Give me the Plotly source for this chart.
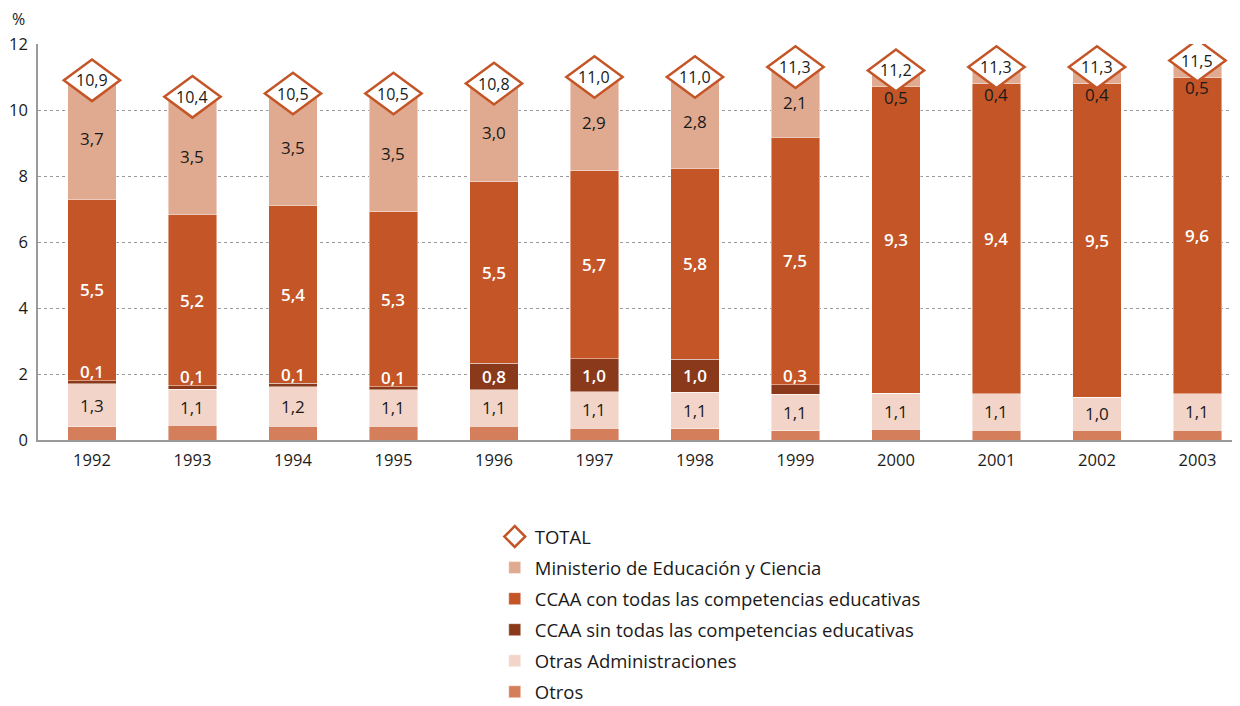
import plotly.graph_objects as go

years = [1992, 1993, 1994, 1995, 1996, 1997, 1998, 1999, 2000, 2001, 2002, 2003]
total = [10.9, 10.4, 10.5, 10.5, 10.8, 11.0, 11.0, 11.3, 11.2, 11.3, 11.3, 11.5]
ministerio = [3.7, 3.5, 3.5, 3.5, 3.0, 2.9, 2.8, 2.1, 0.5, 0.4, 0.4, 0.5]
ccaa_con = [5.5, 5.2, 5.4, 5.3, 5.5, 5.7, 5.8, 7.5, 9.3, 9.4, 9.5, 9.6]
ccaa_sin = [0.1, 0.1, 0.1, 0.1, 0.8, 1.0, 1.0, 0.3, None, None, None, None]
otras_adm = [1.3, 1.1, 1.2, 1.1, 1.1, 1.1, 1.1, 1.1, 1.1, 1.1, 1.0, 1.1]
otros = [0.40, 0.44, 0.42, 0.42, 0.42, 0.36, 0.34, 0.28, 0.32, 0.30, 0.30, 0.30]

names = {
    "total": "TOTAL",
    "min": "Ministerio de Educación y Ciencia",
    "con": "CCAA con todas las competencias educativas",
    "sin": "CCAA sin todas las competencias educativas",
    "otras": "Otras Administraciones",
    "otros": "Otros",
}
colors = {
    "min": "#E0AA90",
    "con": "#C45527",
    "sin": "#8A3A1B",
    "otras": "#F2D4C8",
    "otros": "#D47E5C",
}
FONT = "Open Sans"
DARK = "#1a1a1a"


def fmt(v):
    return f"{v:.1f}".replace(".", ",")


fig = go.Figure()
series = [
    ("otros", otros, 6),
    ("otras", otras_adm, 5),
    ("sin", ccaa_sin, 4),
    ("con", ccaa_con, 3),
    ("min", ministerio, 2),
]
for key, vals, rank in series:
    fig.add_trace(go.Bar(
        x=years, y=[v if v is not None else 0 for v in vals], name=names[key],
        marker=dict(color=colors[key], line=dict(color="rgba(255,255,255,0.55)", width=0.8)),
        width=0.48, legendgroup=key, legendrank=rank, hoverinfo="skip",
    ))

fig.add_trace(go.Scatter(
    x=years, y=total, mode="markers", name=names["total"],
    marker=dict(symbol="diamond", size=24, color="white",
                line=dict(color="#C45527", width=2.5)),
    legendgroup="total", legendrank=1, hoverinfo="skip",
))

annotations = []
shapes = []
hw, hh = 0.28, 0.63
LBL = 17
for i, yr in enumerate(years):
    o = otros[i]
    oa = otras_adm[i]
    s = ccaa_sin[i] or 0
    c = ccaa_con[i]
    m = ministerio[i]
    annotations.append(dict(x=yr, y=o + oa / 2, text=fmt(oa), showarrow=False,
                            font=dict(family=FONT, size=LBL, color=DARK)))
    base = o + oa
    if ccaa_sin[i] is not None:
        ys = base + s / 2 if s >= 0.5 else base + s + 0.27
        annotations.append(dict(x=yr, y=ys, text=fmt(s), showarrow=False,
                                font=dict(family=FONT, size=LBL, color="white", weight=600)))
    base += s
    annotations.append(dict(x=yr, y=base + c / 2, text=fmt(c), showarrow=False,
                            font=dict(family=FONT, size=LBL, color="white", weight=600)))
    base += c
    ym = base + m / 2 if m >= 1 else base - 0.33
    annotations.append(dict(x=yr, y=ym, text=fmt(m), showarrow=False,
                            font=dict(family=FONT, size=LBL, color=DARK)))
    t = total[i]
    shapes.append(dict(
        type="path", xref="x", yref="y", layer="above",
        path=f"M {yr - hw},{t} L {yr},{t + hh} L {yr + hw},{t} L {yr},{t - hh} Z",
        fillcolor="white", line=dict(color="#C45527", width=2.5),
    ))
    annotations.append(dict(x=yr, y=t, text=fmt(t), showarrow=False,
                            font=dict(family=FONT, size=16, color=DARK)))

annotations.append(dict(xref="paper", yref="paper", x=-0.016, y=1.064, text="%",
                        xanchor="center", yanchor="middle",
                        showarrow=False, font=dict(family=FONT, size=16, color=DARK)))

# The page body has an 8px margin; size the figure to fit the 1240x706 window.
fig.update_layout(
    width=1232, height=698,
    barmode="stack",
    plot_bgcolor="white", paper_bgcolor="white",
    margin=dict(l=30, r=0, t=36, b=266, autoexpand=False),
    font=dict(family=FONT, size=16, color=DARK),
    showlegend=True,
    legend=dict(
        orientation="v", x=0.380, y=-0.197, xanchor="left", yanchor="top",
        font=dict(family=FONT, size=18.5, color=DARK),
        tracegroupgap=4, traceorder="grouped",
        bgcolor="rgba(0,0,0,0)",
    ),
    annotations=annotations,
    shapes=shapes,
)
fig.update_xaxes(
    range=[1991.463, 2003.423], tickmode="array", tickvals=years,
    ticktext=[str(y) for y in years], showgrid=False, zeroline=False,
    showline=True, linecolor="#9a9a9a", linewidth=2, ticks="",
    tickfont=dict(family=FONT, size=16.5, color=DARK), automargin=False,
    ticklabelstandoff=4,
)
fig.update_yaxes(
    range=[0, 12], tickvals=[0, 2, 4, 6, 8, 10, 12],
    showgrid=True, gridcolor="#9a9a9a", griddash="dot", gridwidth=1,
    zeroline=False, showline=True, linecolor="#9a9a9a", linewidth=1.5, ticks="",
    tickfont=dict(family=FONT, size=16.5, color=DARK), automargin=False,
    ticklabelstandoff=5,
)

fig.write_html("out.html")
